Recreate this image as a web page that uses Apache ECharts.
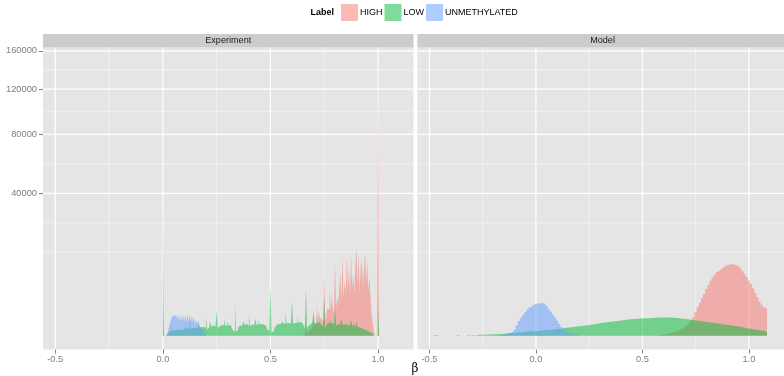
<!DOCTYPE html>
<html>
<head>
<meta charset="utf-8">
<script src="https://cdn.jsdelivr.net/npm/echarts@6/dist/echarts.min.js"></script>
<style>
  html, body { margin: 0; padding: 0; background: #ffffff; }
  #chart { width: 784px; height: 376px; }
</style>
</head>
<body>
<div id="chart"></div>
<script>
// Histogram counts of beta values, one array per label and panel.
// Each array starts at the left edge of its first bin.
// Experiment panel: bins of width 0.005; Model panel: bins of width 0.01.
const labels = ['HIGH', 'LOW', 'UNMETHYLATED'];
const panels = ['Experiment', 'Model'];

const expBin = 0.005;
const expHighStart = 0.600;
const expHighCounts = [
  0, 0, 0, 0, 0, 0, 0, 0, 0, 0,
  0, 5, 10, 150, 20, 40, 60, 90, 120, 160,
  700, 200, 260, 2300, 400, 1200, 500, 700, 500, 350,
  7000, 400, 900, 1500, 1300, 4400, 1200, 3500, 1500, 900,
  10700, 1500, 2950, 2000, 4500, 8000, 2500, 12400, 3000, 5900,
  3500, 12200, 4000, 9300, 3000, 12700, 4500, 7600, 3500, 10000,
  15300, 5000, 13000, 4000, 9500, 11000, 4500, 9000, 13800, 5000,
  11000, 4000, 7000, 3000, 1000, 300, 60, 0, 0, 0,
  148600
];
const expLowStart = 0.000;
const expLowCounts = [
  2100, 0, 0, 0, 10, 30, 40, 50, 55, 60,
  70, 60, 75, 70, 80, 70, 85, 75, 90, 80,
  150, 85, 110, 90, 100, 600, 100, 110, 180, 110,
  120, 130, 140, 500, 150, 140, 200, 150, 130, 120,
  800, 80, 130, 160, 400, 150, 220, 200, 160, 120,
  1265, 120, 170, 200, 250, 180, 200, 570, 220, 190,
  450, 200, 240, 180, 130, 60, 30, 1940, 30, 60,
  150, 200, 250, 220, 240, 450, 220, 280, 230, 200,
  950, 180, 250, 260, 230, 240, 600, 250, 230, 520,
  260, 270, 220, 250, 300, 200, 150, 80, 40, 20,
  5000, 20, 40, 80, 150, 200, 300, 250, 320, 280,
  260, 450, 280, 300, 1100, 300, 320, 350, 300, 280,
  2460, 280, 320, 380, 330, 700, 320, 400, 340, 300,
  280, 200, 120, 4680, 100, 180, 250, 320, 350, 300,
  1265, 300, 350, 900, 300, 380, 320, 250, 180, 100,
  2950, 100, 200, 300, 350, 700, 300, 350, 280, 200,
  1600, 200, 260, 300, 280, 300, 600, 250, 260, 250,
  220, 400, 200, 220, 200, 500, 200, 250, 180, 150,
  400, 150, 140, 120, 110, 100, 90, 80, 60, 50,
  40, 30, 20, 15, 10, 5, 0, 0, 0, 0,
  1440
];
const expUnmethStart = 0.000;
const expUnmethCounts = [
  35800, 0, 0, 0, 5, 60, 200, 400, 600, 750,
  850, 1000, 700, 950, 450, 950, 400, 880, 420, 850,
  380, 880, 400, 860, 380, 850, 350, 820, 380, 700,
  300, 500, 280, 400, 200, 120, 80, 40, 20, 8,
  0
];

const modelBin = 0.01;
const modelHighStart = 0.575;
const modelHighCounts = [
  1, 2, 4, 6, 9, 14, 20, 30, 45, 65,
  95, 135, 190, 265, 360, 490, 680, 1100, 1600, 2150,
  2800, 3500, 4300, 5100, 5950, 6750, 7450, 8000, 8500, 9000,
  9450, 9750, 9950, 10050, 10050, 9950, 9700, 9300, 8850, 8200,
  7500, 6800, 6050, 5300, 4450, 3650, 2950, 2300, 1900, 1600,
  1500
];
const modelLowStart = -0.475;
const modelLowCounts = [
  1, 0, 0, 0, 0, 0, 0, 0, 0, 0,
  1, 0, 0, 0, 0, 1, 0, 1, 0, 1,
  1, 2, 2, 2, 3, 3, 4, 4, 5, 6,
  7, 8, 9, 11, 12, 14, 16, 18, 20, 23,
  26, 29, 32, 35, 38, 40, 41,
  42, 46, 50, 54, 58, 63, 68, 73, 79, 85,
  92, 99, 107, 116, 125, 133, 142, 151, 160, 169,
  177, 184, 195, 207, 220, 234, 249, 265, 282, 300,
  318, 333, 348, 363, 378, 392, 407, 422, 437, 452,
  467, 484, 500, 516, 532, 548, 558, 568, 578, 588,
  598, 605, 612, 620, 628, 636, 645, 652, 658, 662,
  662, 660, 656, 650, 642, 634, 622, 608, 592, 575,
  556, 537, 518, 500, 480, 462, 444, 426, 408, 390,
  372, 357, 342, 326, 310, 296, 281, 267, 254, 241,
  228, 215, 202, 190, 178, 166, 150, 137, 125, 113,
  102, 92, 82, 73, 65, 58, 52, 46, 30
];
const modelUnmethStart = -0.175;
const modelUnmethCounts = [
  1, 3, 5, 8, 12, 20, 35, 80, 220, 430,
  620, 850, 1100, 1350, 1580, 1780, 1950, 2030, 2080, 2100,
  2100, 2000, 1750, 1450, 1150, 900, 680, 450, 270, 150,
  75, 35, 15, 8, 5, 3, 2, 1
];

// Axis breaks (counts on a square-root scale, beta on a linear scale)
const yBreaks = [40000, 80000, 120000, 160000];
const xBreaks = [-0.5, 0.0, 0.5, 1.0];
const xMin = -0.557, xMax = 1.165;

const fills = {
  HIGH: 'rgba(248,118,109,0.5)',
  LOW: 'rgba(0,186,56,0.5)',
  UNMETHYLATED: 'rgba(97,156,255,0.5)'
};

const panelData = [
  { HIGH: [expHighStart, expBin, expHighCounts],
    LOW: [expLowStart, expBin, expLowCounts],
    UNMETHYLATED: [expUnmethStart, expBin, expUnmethCounts] },
  { HIGH: [modelHighStart, modelBin, modelHighCounts],
    LOW: [modelLowStart, modelBin, modelLowCounts],
    UNMETHYLATED: [modelUnmethStart, modelBin, modelUnmethCounts] }
];

// sqrt-scale extent with 5% padding
const allCounts = [].concat(expHighCounts, expLowCounts, expUnmethCounts,
  modelHighCounts, modelLowCounts, modelUnmethCounts);
const sMax = Math.sqrt(Math.max.apply(null, allCounts));
const yMin = -0.05 * sMax, yMax = 1.05 * sMax;

// histogram outline as step points at bin edges
function stepPoints(start, width, counts) {
  const pts = counts.map((c, i) => [start + i * width, Math.sqrt(c)]);
  pts.push([start + counts.length * width, Math.sqrt(counts[counts.length - 1])]);
  return pts;
}

// major and minor grid lines in transformed space
const ySq = yBreaks.map(Math.sqrt);
const yMinor = [];
{
  const n = ySq.length;
  const ext = [ySq[0] - (ySq[1] - ySq[0])].concat(ySq, [ySq[n - 1] + (ySq[n - 1] - ySq[n - 2])]);
  if (ext[0] > yMin) yMinor.push(ext[0]);
  for (let i = 0; i < ext.length - 1; i++) {
    const m = (ext[i] + ext[i + 1]) / 2;
    if (m > yMin && m < yMax) yMinor.push(m);
  }
}
const xMinor = [-0.75, -0.25, 0.25, 0.75, 1.25].filter(v => v > xMin && v < xMax);
const gridRows = [];
xMinor.forEach(v => gridRows.push([0, v, 0]));
yMinor.forEach(v => gridRows.push([1, v, 0]));
xBreaks.forEach(v => gridRows.push([0, v, 1]));
ySq.forEach(v => gridRows.push([1, v, 1]));

const GRID_TOP = 47.5, GRID_H = 302, GRID_W = 370.5;
const gridLefts = [43, 417.3];
const FONT = 'Liberation Sans, Arial, sans-serif';

const chart = echarts.init(document.getElementById('chart'), null, { renderer: 'canvas' });

const series = [];
panels.forEach((p, pi) => {
  series.push({
    type: 'custom',
    xAxisIndex: pi, yAxisIndex: pi,
    silent: true, z: 1,
    data: gridRows,
    renderItem: function (params, api) {
      const cs = params.coordSys;
      const kind = api.value(0), v = api.value(1), major = api.value(2);
      let shape;
      if (kind === 0) {
        const x = api.coord([v, 0])[0];
        shape = { x1: x, y1: cs.y, x2: x, y2: cs.y + cs.height };
      } else {
        const y = api.coord([0, v])[1];
        shape = { x1: cs.x, y1: y, x2: cs.x + cs.width, y2: y };
      }
      return {
        type: 'line', shape: shape,
        style: { stroke: major ? '#FFFFFF' : '#F2F2F2', lineWidth: major ? 1.2 : 0.8 }
      };
    }
  });
  labels.forEach(lab => {
    const d = panelData[pi][lab];
    series.push({
      type: 'line', name: lab,
      xAxisIndex: pi, yAxisIndex: pi,
      step: 'end', symbol: 'none', silent: true, z: 2,
      lineStyle: { width: 0, opacity: 0 },
      itemStyle: { color: fills[lab] },
      areaStyle: { color: fills[lab], opacity: 1 },
      data: stepPoints(d[0], d[1], d[2])
    });
  });
});

const axisText = { color: '#7F7F7F', fontSize: 9.3, fontFamily: FONT };

chart.setOption({
  animation: false,
  backgroundColor: '#FFFFFF',
  textStyle: { fontFamily: FONT },
  legend: {
    data: labels,
    left: 341, top: 4, padding: 0,
    icon: 'rect', itemWidth: 17, itemHeight: 17, itemGap: 2,
    selectedMode: false,
    textStyle: { fontSize: 9, color: '#000000', padding: [0, 0, 0, -3] }
  },
  grid: gridLefts.map(l => ({
    left: l, top: GRID_TOP, width: GRID_W, height: GRID_H,
    show: true, backgroundColor: '#E5E5E5', borderWidth: 0
  })),
  xAxis: panels.map((p, pi) => ({
    type: 'value', gridIndex: pi, min: xMin, max: xMax,
    splitLine: { show: false }, axisLine: { show: false, onZero: false },
    axisTick: { show: true, length: 4, customValues: xBreaks, lineStyle: { color: '#7F7F7F' } },
    axisLabel: Object.assign({ margin: 5, customValues: xBreaks, formatter: v => v.toFixed(1) }, axisText)
  })),
  yAxis: panels.map((p, pi) => ({
    type: 'value', gridIndex: pi, min: yMin, max: yMax,
    splitLine: { show: false }, axisLine: { show: false, onZero: false },
    axisTick: { show: pi === 0, length: 4, customValues: ySq, lineStyle: { color: '#7F7F7F' } },
    axisLabel: Object.assign({ show: pi === 0, margin: 6, customValues: ySq,
      formatter: v => String(Math.round(v * v)) }, axisText)
  })),
  graphic: [
    { type: 'rect', left: gridLefts[0], top: 34, shape: { width: GRID_W, height: 13.5 }, style: { fill: '#CCCCCC' }, silent: true },
    { type: 'rect', left: gridLefts[1], top: 34, shape: { width: GRID_W, height: 13.5 }, style: { fill: '#CCCCCC' }, silent: true },
    { type: 'text', x: gridLefts[0] + GRID_W / 2, y: 40.8, silent: true,
      style: { text: panels[0], fill: '#1A1A1A', fontSize: 9.1, fontFamily: FONT, align: 'center', verticalAlign: 'middle' } },
    { type: 'text', x: gridLefts[1] + GRID_W / 2, y: 40.8, silent: true,
      style: { text: panels[1], fill: '#1A1A1A', fontSize: 9.1, fontFamily: FONT, align: 'center', verticalAlign: 'middle' } },
    { type: 'text', x: 334, y: 13, silent: true,
      style: { text: 'Label', fill: '#000000', fontSize: 9, fontWeight: 'bold', fontFamily: FONT, align: 'right', verticalAlign: 'middle' } },
    { type: 'text', x: 415, y: 369, silent: true,
      style: { text: 'β', fill: '#000000', fontSize: 12, fontFamily: 'DejaVu Serif, serif', align: 'center', verticalAlign: 'middle' } }
  ],
  series: series
});
</script>
</body>
</html>
